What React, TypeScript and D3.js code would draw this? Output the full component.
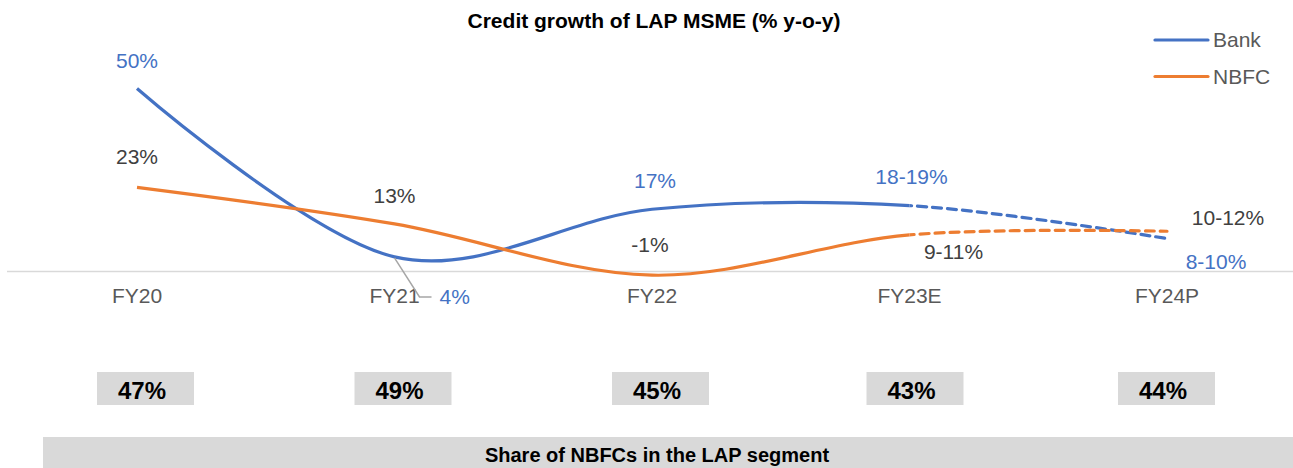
import React from "react";
import * as d3 from "d3";

const categories = ["FY20", "FY21", "FY22", "FY23E", "FY24P"];
const bankValues = [50, 4, 17, 18, 9];
const nbfcValues = [23, 13, -1, 10, 11];
const bankLabels = ["50%", "4%", "17%", "18-19%", "8-10%"];
const nbfcLabels = ["23%", "13%", "-1%", "9-11%", "10-12%"];
const nbfcShare = ["47%", "49%", "45%", "43%", "44%"];
const firstProjected = "FY23E";

// label offsets from each point (dx, dy to baseline)
const bankLabelOffsets = [[0, -21], [0, 0], [3, -21], [2, -22], [49, 30]];
const nbfcLabelOffsets = [[0, -23], [0, -21], [-2, -23], [44, 24], [61, -6]];
// share boxes sit a little off the category centres
const shareBoxOffsets = [8, 8, 8, 5, -1];

const W = 1293;
const H = 468;
const FONT = "'Liberation Sans', Arial, sans-serif";
const BLUE = "#4472C4";
const ORANGE = "#ED7D31";
const GREY_TXT = "#595959";
const DARK_TXT = "#404040";

export default function App() {
  const x = d3.scalePoint<string>().domain(categories).range([137, 1167]);
  const y = d3.scaleLinear().domain([0, 50]).range([271.5, 88.5]);

  const line = d3
    .line<number>()
    .x((_, i) => x(categories[i]) as number)
    .y((d) => y(d))
    .curve(d3.curveCardinal.tension(0));

  const splitX = x(firstProjected) as number;

  const series = [
    { name: "Bank", color: BLUE, values: bankValues },
    { name: "NBFC", color: ORANGE, values: nbfcValues },
  ];

  const fy21 = x("FY21") as number;

  return (
    <svg
      width={W}
      height={H}
      style={{ position: "absolute", left: 0, top: 0, background: "#fff" }}
      fontFamily={FONT}
    >
      <defs>
        <clipPath id="actual">
          <rect x={0} y={0} width={splitX} height={H} />
        </clipPath>
        <clipPath id="projected">
          <rect x={splitX} y={0} width={W - splitX} height={H} />
        </clipPath>
      </defs>

      <text x={654} y={28} textAnchor="middle" fontWeight="bold" fontSize={21} fill="#000">
        Credit growth of LAP MSME (% y-o-y)
      </text>

      {/* axis */}
      <line x1={7} x2={W} y1={y(0)} y2={y(0)} stroke="#D9D9D9" strokeWidth={1.5} />
      {categories.map((c) => (
        <text key={c} x={x(c)} y={303} textAnchor="middle" fontSize={21} fill={GREY_TXT}>
          {c}
        </text>
      ))}

      {/* lines */}
      {series.map((s) => (
        <g key={s.name}>
          <path
            d={line(s.values) || ""}
            fill="none"
            stroke={s.color}
            strokeWidth={3.2}
            clipPath="url(#actual)"
          />
          <path
            d={line(s.values) || ""}
            fill="none"
            stroke={s.color}
            strokeWidth={3.2}
            strokeDasharray="9,6"
            strokeLinecap="round"
            clipPath="url(#projected)"
          />
        </g>
      ))}

      {/* data labels */}
      {bankValues.map((v, i) => {
        if (i === 1) return null;
        const [dx, dy] = bankLabelOffsets[i];
        return (
          <text
            key={"b" + i}
            x={(x(categories[i]) as number) + dx}
            y={y(v) + dy}
            textAnchor="middle"
            fontSize={21}
            fill={BLUE}
          >
            {bankLabels[i]}
          </text>
        );
      })}
      {/* FY21 bank label with leader line */}
      <polyline
        points={`${fy21},${y(bankValues[1]) + 1} ${fy21 + 25},297 ${fy21 + 37},297`}
        fill="none"
        stroke="#A6A6A6"
        strokeWidth={1.5}
      />
      <text x={fy21 + 45} y={304} fontSize={21} fill={BLUE}>
        {bankLabels[1]}
      </text>

      {nbfcValues.map((v, i) => {
        const [dx, dy] = nbfcLabelOffsets[i];
        return (
          <text
            key={"n" + i}
            x={(x(categories[i]) as number) + dx}
            y={y(v) + dy}
            textAnchor="middle"
            fontSize={21}
            fill={DARK_TXT}
          >
            {nbfcLabels[i]}
          </text>
        );
      })}

      {/* legend */}
      {series.map((s, i) => (
        <g key={"lg" + s.name} transform={`translate(1155, ${40 + i * 36.5})`}>
          <line x1={0} x2={53} y1={0} y2={0} stroke={s.color} strokeWidth={3.2} strokeLinecap="round" />
          <text x={58} y={7} fontSize={21} fill={GREY_TXT}>
            {s.name}
          </text>
        </g>
      ))}

      {/* NBFC share boxes */}
      {nbfcShare.map((s, i) => {
        const cx = (x(categories[i]) as number) + shareBoxOffsets[i];
        return (
          <g key={"s" + i}>
            <rect x={cx - 48} y={372} width={97} height={33} fill="#D9D9D9" />
            <text x={cx - 3} y={399} textAnchor="middle" fontSize={24} fontWeight="bold" fill="#000">
              {s}
            </text>
          </g>
        );
      })}

      <rect x={43} y={437} width={W - 43} height={31} fill="#D9D9D9" />
      <text x={657} y={462} textAnchor="middle" fontSize={20} fontWeight="bold" fill="#000">
        Share of NBFCs in the LAP segment
      </text>
    </svg>
  );
}
